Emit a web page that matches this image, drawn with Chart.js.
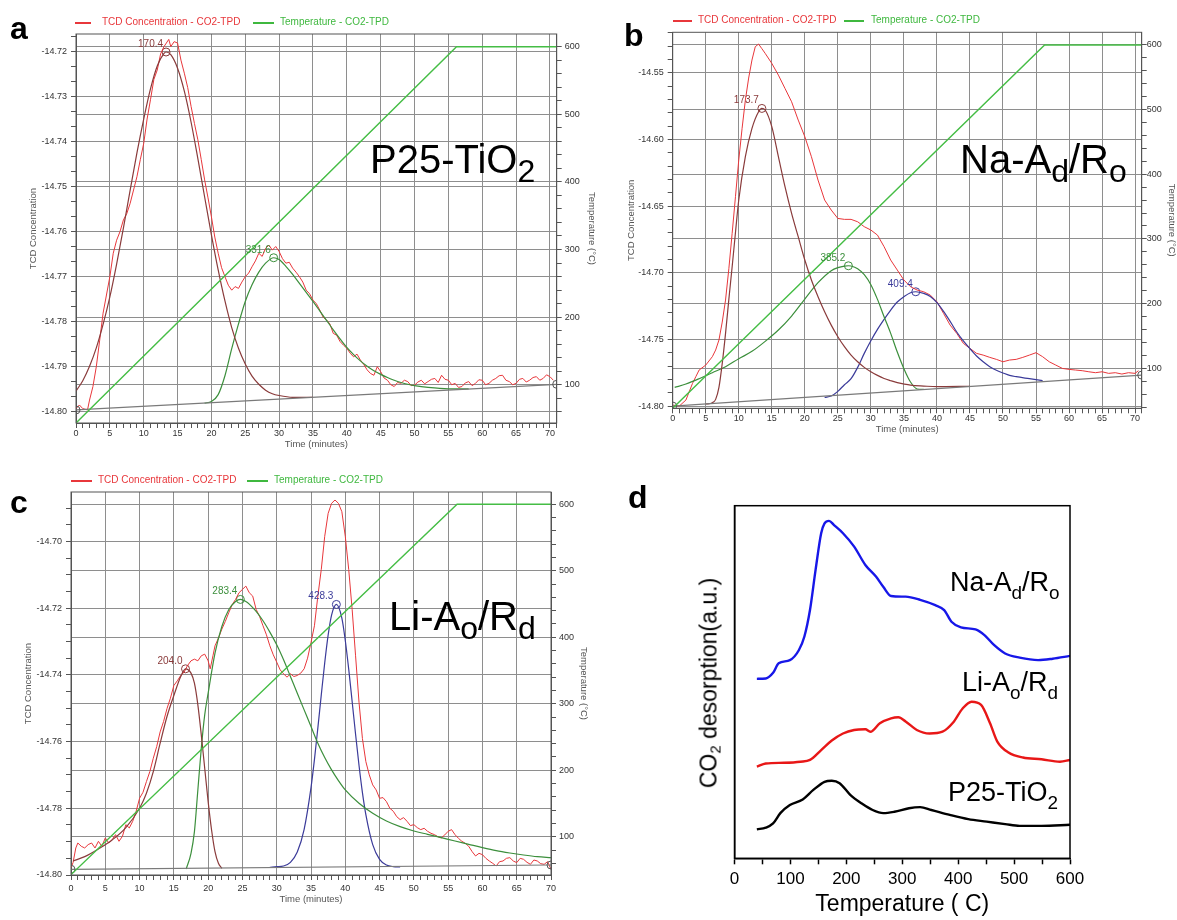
<!DOCTYPE html>
<html>
<head>
<meta charset="utf-8">
<script src="https://cdn.jsdelivr.net/npm/chart.js@4.4.1/dist/chart.umd.min.js"></script>
<style>
  body { margin: 0; background: #fff; font-family: "Liberation Sans", Arial, sans-serif; }
  #fig { position: relative; width: 1177px; height: 920px; overflow: hidden; }
  canvas { position: absolute; }
  .letter { position: absolute; font-weight: bold; font-size: 32px; line-height: 1; color: #000; z-index: 2; }
  .sample { position: absolute; font-size: 40px; line-height: 1; color: #000; white-space: nowrap; z-index: 2; }
  .sample sub { font-size: 0.8em; vertical-align: -0.28em; line-height: 0; }
  .sample.small { font-size: 27px; }
  .sample.small sub { font-size: 0.7em; vertical-align: -0.4em; }
  .sw { position: absolute; height: 1.5px; z-index: 2; }
  .lt { position: absolute; font-size: 10px; line-height: 10px; white-space: nowrap; z-index: 2; }
  .ytitle { position: absolute; font-size: 23px; line-height: 1; white-space: nowrap; color: #000;
            transform: translate(-50%, -50%) rotate(-90deg); z-index: 2; }
  .ytitle sub { font-size: 0.65em; vertical-align: -0.3em; line-height: 0; }
</style>
</head>
<body>
<div id="fig">
  <canvas id="ca" width="600" height="462" style="left:0;top:0"></canvas>
  <canvas id="cb" width="577" height="440" style="left:600px;top:0"></canvas>
  <canvas id="cc" width="600" height="450" style="left:0;top:470px"></canvas>
  <canvas id="cd" width="577" height="450" style="left:600px;top:470px"></canvas>

  <div class="letter" style="left:10px;top:12px">a</div>
  <div class="letter" style="left:624px;top:19px">b</div>
  <div class="letter" style="left:10px;top:486px">c</div>
  <div class="letter" style="left:628px;top:481px">d</div>

  <!-- legends of the instrument plots -->
  <div class="sw" style="left:75px;top:22px;width:16px;background:#e8373b"></div>
  <div class="lt" style="left:102px;top:17px;color:#e8373b">TCD Concentration - CO2-TPD</div>
  <div class="sw" style="left:253px;top:22px;width:21px;background:#3fb83f"></div>
  <div class="lt" style="left:280px;top:17px;color:#3fb83f">Temperature - CO2-TPD</div>

  <div class="sw" style="left:673px;top:20px;width:19px;background:#e8373b"></div>
  <div class="lt" style="left:698px;top:15px;color:#e8373b">TCD Concentration - CO2-TPD</div>
  <div class="sw" style="left:844px;top:20px;width:20px;background:#3fb83f"></div>
  <div class="lt" style="left:871px;top:15px;color:#3fb83f">Temperature - CO2-TPD</div>

  <div class="sw" style="left:71px;top:480px;width:21px;background:#e8373b"></div>
  <div class="lt" style="left:98px;top:475px;color:#e8373b">TCD Concentration - CO2-TPD</div>
  <div class="sw" style="left:247px;top:480px;width:21px;background:#3fb83f"></div>
  <div class="lt" style="left:274px;top:475px;color:#3fb83f">Temperature - CO2-TPD</div>

  <div class="sample" style="left:370px;top:139px">P25-TiO<sub>2</sub></div>
  <div class="sample" style="left:960px;top:139px">Na-A<sub>d</sub>/R<sub>o</sub></div>
  <div class="sample" style="left:389px;top:596px">Li-A<sub>o</sub>/R<sub>d</sub></div>

  <div class="sample small" style="left:950px;top:569px">Na-A<sub>d</sub>/R<sub>o</sub></div>
  <div class="sample small" style="left:962px;top:669px">Li-A<sub>o</sub>/R<sub>d</sub></div>
  <div class="sample small" style="left:948px;top:779px">P25-TiO<sub>2</sub></div>
  <div class="ytitle" style="left:709px;top:683px">CO<sub>2</sub> desorption(a.u.)</div>
</div>

<script>
// ---------- shared ticks ----------
const timeTicks = [0, 5, 10, 15, 20, 25, 30, 35, 40, 45, 50, 55, 60, 65, 70];
const tempTicks = [100, 200, 300, 400, 500, 600];

// ---------- a : P25-TiO2 ----------
const aLeftTicks = [-14.80, -14.79, -14.78, -14.77, -14.76, -14.75, -14.74, -14.73, -14.72];
const aTcd = [[0,-14.7993],[0.5,-14.7985],[1,-14.7993],[1.7,-14.7996],[2,-14.7974],[2.5,-14.7944],[3,-14.79],[3.5,-14.7841],
  [4,-14.7781],[5,-14.77],[5.5,-14.7648],[6,-14.7619],[6.5,-14.76],[7,-14.7574],[7.5,-14.756],[8,-14.7537],[9,-14.7478],
  [9.5,-14.744],[10,-14.7404],[10.5,-14.735],[11,-14.7307],[11.5,-14.7262],[12,-14.7241],[12.5,-14.7205],[13,-14.7189],
  [13.7,-14.7173],[14,-14.7189],[14.5,-14.7178],[15,-14.7181],[15.5,-14.7219],[16,-14.7248],[16.5,-14.728],[17,-14.7322],
  [17.5,-14.736],[18,-14.7396],[18.5,-14.744],[19,-14.7485],[19.5,-14.7525],[20,-14.7567],[20.5,-14.7612],[21,-14.7648],
  [21.5,-14.768],[22,-14.77],[22.5,-14.7719],[23,-14.773],[23.5,-14.7722],[24,-14.7726],[24.5,-14.7712],[25,-14.77],
  [25.5,-14.7692],[26,-14.7678],[26.5,-14.7665],[27,-14.7648],[27.5,-14.7655],[28,-14.7637],[28.5,-14.763],[29,-14.7641],
  [29.5,-14.7633],[30,-14.7644],[30.5,-14.766],[31,-14.767],[31.5,-14.7668],[32,-14.7681],[32.5,-14.769],[33,-14.77],
  [33.5,-14.7712],[34,-14.773],[34.5,-14.7738],[35,-14.7752],[35.5,-14.776],[36,-14.7774],[36.5,-14.779],[37,-14.7796],
  [37.5,-14.7805],[38,-14.7826],[38.5,-14.783],[39,-14.7844],[39.5,-14.7852],[40,-14.7859],[40.5,-14.787],[41,-14.7878],
  [41.5,-14.7872],[42,-14.7885],[42.5,-14.7895],[43,-14.7907],[43.5,-14.7915],[44,-14.7919],[44.5,-14.79],[45,-14.7911],
  [45.5,-14.7925],[46,-14.793],[46.5,-14.794],[47,-14.7944],[47.5,-14.7935],[48,-14.7937],[48.5,-14.793],[49,-14.7933],
  [49.5,-14.7942],[50,-14.7941],[50.5,-14.7934],[51,-14.793],[51.5,-14.7938],[52,-14.7933],[52.5,-14.7928],[53,-14.7926],
  [53.5,-14.7935],[54,-14.7919],[54.5,-14.7928],[55,-14.793],[55.5,-14.794],[56,-14.7937],[56.5,-14.7946],[57,-14.7944],
  [57.5,-14.7936],[58,-14.7933],[58.5,-14.7942],[59,-14.7937],[59.5,-14.7929],[60,-14.793],[60.5,-14.794],[61,-14.7937],
  [61.5,-14.793],[62,-14.7926],[62.5,-14.792],[63,-14.7919],[63.5,-14.793],[64,-14.7933],[64.5,-14.794],[65,-14.7937],
  [65.5,-14.7928],[66,-14.7926],[66.5,-14.7934],[67,-14.793],[67.5,-14.7924],[68,-14.7922],[68.5,-14.793],[69,-14.7926],
  [69.5,-14.7918],[70,-14.7922],[70.5,-14.793]];
const aFit1 = [[0,-14.7954],[1,-14.7931],[2,-14.7899],[3,-14.7858],[4,-14.7806],[5,-14.7745],[6,-14.7672],[7,-14.7592],
  [8,-14.7508],[9,-14.7425],[10,-14.735],[11,-14.7283],[12,-14.7232],[13,-14.7204],[13.3,-14.7201],[14,-14.7207],
  [15,-14.7237],[16,-14.7288],[17,-14.7357],[18,-14.7438],[19,-14.7523],[20,-14.7607],[21,-14.7685],[22,-14.7754],
  [23,-14.7813],[24,-14.7859],[25,-14.7894],[26,-14.7921],[27,-14.7939],[28,-14.7952],[29,-14.796],[30,-14.7964],
  [32,-14.7968],[35,-14.7968]];
const aFit2 = [[19,-14.7981],[20,-14.7977],[21,-14.7962],[22,-14.792],[23,-14.786],[24,-14.7805],[25,-14.7755],
  [26,-14.7718],[27,-14.769],[28,-14.767],[29.2,-14.7658],[30,-14.7662],[31,-14.7677],[32,-14.7695],[33,-14.7715],
  [34,-14.7735],[35,-14.7755],[36,-14.7776],[37,-14.7797],[38,-14.7818],[39,-14.7838],[40,-14.7857],[41,-14.7873],
  [42,-14.7887],[43,-14.7899],[44,-14.7909],[45,-14.7917],[46,-14.7924],[47,-14.793],[48,-14.7935],[49,-14.7939],
  [50,-14.7942],[52,-14.7946],[55,-14.7949],[58,-14.7949]];
const aBase = [[0,-14.7996],[71,-14.7939]];
const aTemp = [[0,43.3],[56.2,600],[71,600]];
const aPeaks = [[13.3,-14.7201],[29.2,-14.7658]];
const aPeakLabels = ['170.4', '331.6'];

// ---------- b : Na-Ad/Ro ----------
const bLeftTicks = [-14.80, -14.75, -14.70, -14.65, -14.60, -14.55];
const bTcd = [[0,-14.7993],[1,-14.80],[2,-14.7955],[3,-14.783],[3.5,-14.778],[4,-14.773],[5,-14.7693],[6,-14.763],
  [6.5,-14.758],[7,-14.7505],[7.5,-14.737],[8,-14.7205],[8.5,-14.697],[9,-14.6705],[9.5,-14.643],[10,-14.6155],
  [10.5,-14.592],[11,-14.5705],[11.5,-14.554],[12,-14.5405],[12.5,-14.5305],[13,-14.5285],[13.5,-14.532],[14,-14.5355],
  [15,-14.543],[16,-14.5518],[17,-14.5618],[18,-14.5718],[19,-14.5855],[20,-14.598],[21,-14.613],[22,-14.6305],
  [23,-14.6455],[24,-14.653],[25,-14.6593],[26,-14.66],[27,-14.66],[28,-14.6618],[29,-14.6655],[30,-14.668],
  [31,-14.6718],[32,-14.6805],[33,-14.6905],[34,-14.698],[35,-14.7055],[36,-14.7105],[37,-14.713],[38,-14.7143],
  [39,-14.7168],[40,-14.7218],[41,-14.7305],[42,-14.7393],[43,-14.7455],[44,-14.753],[45,-14.7568],[46,-14.7605],
  [47,-14.7618],[48,-14.7635],[49,-14.765],[50,-14.7668],[51,-14.7655],[52,-14.765],[53,-14.7635],[54,-14.7618],
  [55,-14.76],[56,-14.763],[57,-14.7668],[58,-14.7693],[59,-14.7718],[60,-14.7725],[61,-14.773],[62,-14.7735],
  [63,-14.7743],[64,-14.775],[65,-14.7743],[66,-14.7755],[67,-14.775],[68,-14.776],[69,-14.775],[70,-14.7755],[70.5,-14.7735]];
const bFit1 = [[5,-14.7985],[6,-14.7975],[6.5,-14.795],[7,-14.786],[7.5,-14.768],[8,-14.7455],[8.5,-14.72],[9,-14.6955],
  [9.5,-14.67],[10,-14.6455],[11,-14.613],[12,-14.5918],[13,-14.5793],[13.5,-14.5768],[14,-14.578],[15,-14.5905],
  [16,-14.613],[17,-14.6355],[18,-14.6555],[19,-14.673],[20,-14.6905],[21,-14.7055],[22,-14.718],[23,-14.7293],
  [24,-14.7393],[25,-14.748],[26,-14.7555],[27,-14.7618],[28,-14.7668],[29,-14.771],[30,-14.7743],[31,-14.777],
  [32,-14.7793],[33,-14.781],[34,-14.7825],[35,-14.7835],[36,-14.7843],[38,-14.785],[40,-14.7855],[45,-14.7852]];
const bFit2 = [[0.3,-14.786],[2,-14.7835],[4,-14.7795],[6,-14.775],[8,-14.7705],[10,-14.7645],[12,-14.759],[14,-14.7515],
  [16,-14.743],[18,-14.7325],[20,-14.7198],[22,-14.7075],[24,-14.6985],[25,-14.6962],[26,-14.695],[26.6,-14.6948],
  [27,-14.695],[28,-14.697],[29,-14.7015],[30,-14.709],[31,-14.72],[32,-14.733],[33,-14.7455],[34,-14.7595],
  [35,-14.772],[36,-14.782],[37,-14.7872],[38,-14.7875]];
const bFit3 = [[23,-14.7935],[24,-14.7925],[25,-14.789],[26,-14.784],[27,-14.7795],[28,-14.771],[29,-14.7605],
  [30,-14.751],[31,-14.7425],[32,-14.735],[33,-14.728],[34,-14.722],[35,-14.718],[36,-14.715],[36.8,-14.7143],
  [38,-14.7155],[39,-14.7178],[40,-14.7225],[41,-14.729],[42,-14.7365],[43,-14.7445],[44,-14.7512],[45,-14.757],
  [46,-14.7625],[47,-14.7668],[48,-14.7705],[49,-14.7732],[50,-14.7752],[51,-14.777],[52,-14.778],[54,-14.7795],[56,-14.781]];
const bBase = [[0,-14.80],[71,-14.7768]];
const bTemp = [[0,38],[56.3,600],[71,600]];
const bPeaks = [[13.5,-14.5768],[26.6,-14.6948],[36.8,-14.7143]];
const bPeakLabels = ['173.7', '385.2', '409.4'];

// ---------- c : Li-Ao/Rd ----------
const cLeftTicks = [-14.80, -14.78, -14.76, -14.74, -14.72, -14.70];
const cTcd = [[0,-14.7978],[0.3,-14.7963],[0.7,-14.7919],[1,-14.7904],[1.5,-14.7914],[2,-14.7919],[2.5,-14.7909],
  [3,-14.7904],[3.5,-14.7919],[4,-14.7899],[4.5,-14.7914],[5,-14.7889],[5.5,-14.7904],[6,-14.7894],[6.5,-14.7879],
  [7,-14.7899],[7.5,-14.7884],[8,-14.7849],[8.5,-14.7859],[9,-14.7839],[9.5,-14.7809],[10,-14.777],[10.5,-14.7752],
  [11,-14.772],[11.5,-14.769],[12,-14.765],[12.5,-14.7615],[13,-14.7571],[13.5,-14.754],[14,-14.7501],[14.5,-14.747],
  [15,-14.7432],[15.5,-14.7418],[16,-14.7402],[16.5,-14.7392],[17,-14.7372],[17.5,-14.7358],[18,-14.7353],[18.5,-14.7358],
  [19,-14.7343],[19.5,-14.7338],[20,-14.7358],[20.3,-14.7382],[20.7,-14.7343],[21,-14.7313],[21.5,-14.729],[22,-14.7263],
  [22.5,-14.724],[23,-14.7214],[23.5,-14.719],[24,-14.7174],[24.5,-14.7154],[25,-14.7144],[25.5,-14.7134],[26,-14.7154],
  [26.5,-14.7164],[27,-14.7204],[27.5,-14.7225],[28,-14.7253],[28.5,-14.728],[29,-14.7313],[29.5,-14.734],[30,-14.7362],
  [30.5,-14.7385],[31,-14.7397],[31.5,-14.7407],[32,-14.7397],[32.5,-14.7405],[33,-14.7402],[33.5,-14.7395],[34,-14.7382],
  [34.5,-14.735],[35,-14.7303],[35.5,-14.7253],[36,-14.7164],[36.5,-14.7084],[37,-14.6985],[37.5,-14.6916],[38,-14.6886],
  [38.5,-14.6876],[39,-14.6886],[39.5,-14.6911],[40,-14.6985],[40.5,-14.7084],[41,-14.7204],[41.5,-14.7343],[42,-14.7482],
  [42.5,-14.7591],[43,-14.766],[43.5,-14.77],[44,-14.773],[44.5,-14.7745],[45,-14.777],[45.5,-14.7768],[46,-14.778],
  [46.5,-14.78],[47,-14.7809],[47.5,-14.7825],[48,-14.7834],[48.5,-14.7828],[49,-14.7839],[49.5,-14.7852],[50,-14.7849],
  [50.5,-14.7858],[51,-14.7864],[51.5,-14.786],[52,-14.7869],[52.5,-14.7875],[53,-14.7879],[53.5,-14.7885],[54,-14.7889],
  [54.5,-14.788],[55,-14.7869],[55.5,-14.7864],[56,-14.7879],[56.5,-14.789],[57,-14.7899],[57.5,-14.7905],[58,-14.7914],
  [58.5,-14.793],[59,-14.7943],[59.5,-14.7935],[60,-14.7939],[60.5,-14.795],[61,-14.7958],[61.5,-14.7965],[62,-14.7973],
  [62.5,-14.796],[63,-14.7958],[63.5,-14.795],[64,-14.7948],[64.5,-14.7958],[65,-14.7963],[65.5,-14.795],[66,-14.7953],
  [66.5,-14.7962],[67,-14.7968],[67.5,-14.7955],[68,-14.7958],[68.5,-14.7966],[69,-14.7968],[69.5,-14.796],[70,-14.7983]];
const cFit1 = [[0.3,-14.7958],[2,-14.7945],[4,-14.7922],[6,-14.7895],[8,-14.7858],[10,-14.78],[11,-14.7755],[12,-14.769],
  [13,-14.7605],[14,-14.7525],[15,-14.7462],[16,-14.7405],[16.7,-14.7382],[17.5,-14.7395],[18,-14.7425],[18.5,-14.749],
  [19,-14.758],[19.5,-14.768],[20,-14.778],[20.5,-14.7865],[21,-14.793],[21.5,-14.7965],[22,-14.798]];
const cFit2 = [[16.8,-14.7982],[17.5,-14.7935],[18,-14.787],[18.5,-14.7745],[19,-14.762],[19.5,-14.752],[20,-14.7455],
  [21,-14.7335],[22,-14.7255],[23,-14.7205],[24,-14.718],[24.7,-14.7174],[25.5,-14.718],[26,-14.7188],[27,-14.721],
  [28,-14.7238],[29,-14.7272],[30,-14.731],[31,-14.7355],[32,-14.7405],[33,-14.7455],[34,-14.7505],[35,-14.7555],
  [36,-14.7605],[37,-14.7648],[38,-14.7685],[39,-14.7717],[40,-14.7745],[42,-14.7785],[44,-14.7815],[46,-14.7838],
  [48,-14.7855],[50,-14.7868],[52,-14.7878],[54,-14.7888],[56,-14.7898],[58,-14.7908],[60,-14.7918],[62,-14.7927],
  [64,-14.7934],[66,-14.794],[68,-14.7945],[70,-14.7948]];
const cFit3 = [[29,-14.7977],[30,-14.7975],[31,-14.7973],[32,-14.7962],[33,-14.7931],[34,-14.7863],[35,-14.7738],
  [35.5,-14.7654],[36,-14.7559],[36.5,-14.746],[37,-14.7364],[37.5,-14.7281],[38,-14.7221],[38.7,-14.7189],
  [39.5,-14.723],[40,-14.7297],[40.5,-14.7383],[41,-14.748],[41.5,-14.7578],[42,-14.7671],[42.5,-14.7753],[43,-14.7819],
  [44,-14.7909],[45,-14.7953],[46,-14.797],[47,-14.7975],[48,-14.7976]];
const cBase = [[0,-14.7983],[70,-14.797]];
const cTemp = [[0,43],[56.3,600],[70,600]];
const cPeaks = [[16.7,-14.7382],[24.7,-14.7174],[38.7,-14.7189]];
const cPeakLabels = ['204.0', '283.4', '428.3'];

// ---------- d : CO2 desorption vs temperature ----------
const dTempTicks = [0, 100, 200, 300, 400, 500, 600];
const dNa = [[40,50.9],[56,51],[69,52.6],[79,55.3],[99,56.2],[115,59],[125,62.9],[135,70.4],[145,81.8],[155,92.2],
  [161,95],[169,95.7],[178,94.5],[194,92.2],[214,88.4],[234,83.2],[253,79.9],[266,77],[280,74.4],[306,74.2],[332,73.3],
  [359,71.8],[375,70.4],[388,67.1],[405,65.5],[431,64.9],[447,63.3],[464,60.5],[484,58.1],[510,56.9],[543,56.2],
  [569,56.6],[600,57.4]];
const dLi = [[40,26],[56,26.9],[89,27.1],[118,27.4],[135,27.9],[155,30.7],[174,33.4],[194,35.4],[214,36.4],[234,36.6],
  [243,35.9],[260,38.3],[280,39.7],[293,40],[306,38.8],[326,36.4],[349,35.4],[372,35.9],[391,38.5],[408,42.5],[424,44.4],
  [441,43.5],[457,38.3],[470,33.1],[490,30],[516,28.6],[549,28.1],[582,27.4],[600,27.9]];
const dP25 = [[40,8.2],[56,8.7],[69,9.9],[82,12.8],[99,15.1],[122,16.7],[141,19.4],[161,21.7],[174,22],[188,21.3],
  [207,18],[227,15.6],[247,13.7],[266,12.8],[286,13.2],[312,14.2],[332,14.5],[352,13.7],[385,12.3],[418,11.1],
  [451,10.4],[484,9.7],[510,9.2],[549,9.2],[600,9.5]];

// ---------- helpers ----------
Chart.defaults.font.family = '"Liberation Sans", Arial, sans-serif';
const pts = arr => arr.map(p => ({ x: p[0], y: p[1] }));

function withMinor(majors, step, min, max) {
  const out = [];
  const k0 = Math.ceil(min / step - 1e-6), k1 = Math.floor(max / step + 1e-6);
  for (let k = k0; k <= k1; k++) {
    const v = +(k * step).toFixed(6);
    out.push({ value: v, major: majors.some(m => Math.abs(m - v) < step / 10) });
  }
  return out;
}

function tpdAxis(majors, step, fmt, pad) {
  return {
    afterBuildTicks: s => { s.ticks = withMinor(majors, step, s.min, s.max); },
    ticks: { autoSkip: false, maxRotation: 0, color: '#333', font: { size: 9 }, padding: pad,
             callback: (v, i, t) => t[i].major ? fmt(v) : '' },
    grid: { color: c => (c.tick && c.tick.major) ? '#8e8e8e' : 'rgba(0,0,0,0)',
            tickColor: '#555', tickLength: 5, lineWidth: 1 },
    border: { color: '#555' }
  };
}

const frame = (color, width) => ({
  id: 'frame',
  afterDraw(chart) {
    const a = chart.chartArea, c = chart.ctx;
    c.save();
    c.strokeStyle = color; c.lineWidth = width;
    c.strokeRect(a.left, a.top, a.right - a.left, a.bottom - a.top);
    c.restore();
  }
});

function line(data, color, width, axis) {
  return { data: pts(data), yAxisID: axis, borderColor: color, borderWidth: width, pointRadius: 0, fill: false };
}

function tpdChart(id, p) {
  const fitColors = ['#8a3b3b', '#3c8f3c', '#3b3b9a'];
  const datasets = [
    line(p.temp, '#45bd45', 1.4, 'yT'),
    Object.assign(line(p.base, '#7a7a7a', 1.2, 'y'),
      { pointRadius: 4, pointBorderColor: '#555', pointBackgroundColor: 'rgba(0,0,0,0)', pointBorderWidth: 1 }),
    ...p.fits.map((f, i) => Object.assign(line(f, fitColors[i], 1.2, 'y'), { cubicInterpolationMode: 'monotone' })),
    line(p.tcd, '#e8373b', 1, 'y'),
    { data: pts(p.peaks), yAxisID: 'y', showLine: false, pointRadius: 4,
      pointBorderColor: fitColors.slice(0, p.peaks.length), pointBackgroundColor: 'rgba(0,0,0,0)', pointBorderWidth: 1 }
  ];
  const labels = {
    id: 'peakLabels',
    afterDatasetsDraw(chart) {
      const { ctx, scales: { x, y } } = chart;
      ctx.save();
      ctx.font = '10px "Liberation Sans", Arial, sans-serif';
      ctx.textAlign = 'right'; ctx.textBaseline = 'middle';
      p.peaks.forEach((pk, i) => {
        ctx.fillStyle = fitColors[i];
        ctx.fillText(p.peakLabels[i], x.getPixelForValue(pk[0]) - 3, y.getPixelForValue(pk[1]) - 8);
      });
      ctx.restore();
    }
  };
  const titleFont = { size: 9.5 };
  new Chart(document.getElementById(id), {
    type: 'line',
    data: { datasets },
    options: {
      responsive: false, animation: false, events: [],
      layout: { padding: { top: p.top, left: 0, right: 0, bottom: 0 } },
      plugins: { legend: { display: false }, tooltip: { enabled: false } },
      scales: {
        x: Object.assign(tpdAxis(timeTicks, 1, v => String(v), p.xPad), {
          type: 'linear', min: 0, max: p.xMax,
          afterFit: s => { s.height = p.xh; },
          title: { display: true, text: 'Time (minutes)', color: '#555', font: titleFont, padding: { top: 0, bottom: p.xTitle } }
        }),
        y: Object.assign(tpdAxis(p.leftTicks, p.leftStep, v => v.toFixed(2), 4), {
          position: 'left', min: p.yMin, max: p.yMax,
          afterFit: s => { s.width = p.lw; },
          title: { display: true, text: 'TCD Concentration', color: '#555', font: titleFont, padding: { top: p.lTitle, bottom: 0 } }
        }),
        yT: Object.assign(tpdAxis(tempTicks, 20, v => String(v), p.rPad), {
          position: 'right', min: p.tMin, max: p.tMax,
          afterFit: s => { s.width = p.rw; },
          title: { display: true, text: 'Temperature (°C)', color: '#555', font: titleFont, padding: { top: p.rTitle, bottom: 0 } }
        })
      }
    },
    plugins: [frame('#555', 1), labels]
  });
}

tpdChart('ca', { tcd: aTcd, fits: [aFit1, aFit2], base: aBase, temp: aTemp, peaks: aPeaks, peakLabels: aPeakLabels,
  leftTicks: aLeftTicks, leftStep: 0.01 / 3, yMin: -14.8025, yMax: -14.7161, tMin: 43.3, tMax: 618.8, xMax: 71,
  top: 34, lw: 76, rw: 43.3, xh: 39, xPad: 0, rPad: 3, xTitle: 11.6, lTitle: 27.3, rTitle: 2.3 });

tpdChart('cb', { tcd: bTcd, fits: [bFit1, bFit2, bFit3], base: bBase, temp: bTemp, peaks: bPeaks, peakLabels: bPeakLabels,
  leftTicks: bLeftTicks, leftStep: 0.01, yMin: -14.8017, yMax: -14.5197, tMin: 38, tMax: 619.6, xMax: 71,
  top: 32.3, lw: 72.7, rw: 35.3, xh: 31.7, xPad: 0, rPad: 0, xTitle: 4.6, lTitle: 25.7, rTitle: 0 });

tpdChart('cc', { tcd: cTcd, fits: [cFit1, cFit2, cFit3], base: cBase, temp: cTemp, peaks: cPeaks, peakLabels: cPeakLabels,
  leftTicks: cLeftTicks, leftStep: 0.005, yMin: -14.80, yMax: -14.6852, tMin: 42.4, tMax: 618.5, xMax: 70,
  top: 22, lw: 71, rw: 49, xh: 45, xPad: 3, rPad: 3, xTitle: 14.6, lTitle: 23, rTitle: 10.3 });

// ---------- panel d ----------
const dLine = (data, color) => ({ data: pts(data), borderColor: color, borderWidth: 2.4, pointRadius: 0,
  cubicInterpolationMode: 'monotone', fill: false });
new Chart(document.getElementById('cd'), {
  type: 'line',
  data: { datasets: [dLine(dNa, '#1717e8'), dLine(dLi, '#e81717'), dLine(dP25, '#000000')] },
  options: {
    responsive: false, animation: false, events: [],
    layout: { padding: { top: 35.7, right: 107, left: 0, bottom: 0 } },
    plugins: { legend: { display: false }, tooltip: { enabled: false } },
    scales: {
      x: {
        type: 'linear', min: 0, max: 600,
        afterBuildTicks: s => { s.ticks = withMinor(dTempTicks, 50, 0, 600); },
        afterFit: s => { s.height = 61.7; },
        ticks: { autoSkip: false, maxRotation: 0, color: '#000', font: { size: 17 }, padding: 5,
                 callback: (v, i, t) => t[i].major ? String(v) : '' },
        grid: { drawOnChartArea: false, tickColor: '#000', tickLength: 6, tickWidth: 1.5 },
        border: { color: '#000', width: 1.5 },
        title: { display: true, text: 'Temperature ( C)', color: '#000', font: { size: 23 }, padding: { top: 0, bottom: 1.2 } }
      },
      y: {
        min: 0, max: 100,
        afterFit: s => { s.width = 134.5; },
        ticks: { display: false },
        grid: { display: false },
        border: { color: '#000', width: 1.5 }
      }
    }
  },
  plugins: [frame('#000', 1.5)]
});
</script>
</body>
</html>
